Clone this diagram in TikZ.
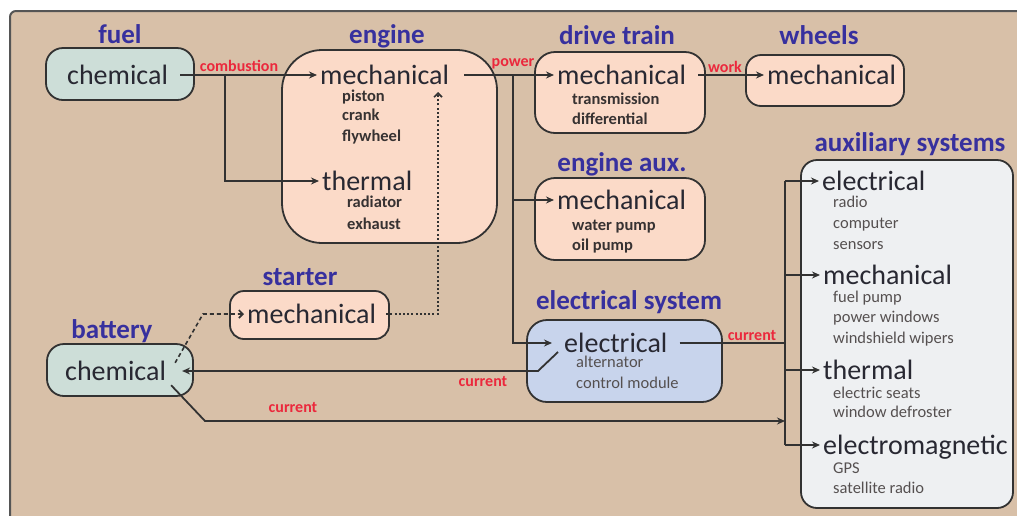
\documentclass[tikz,border=0pt]{standalone}
\usepackage{fontspec}
\setmainfont{Carlito}
\usetikzlibrary{arrows.meta,calc}
\definecolor{tanc}{RGB}{216,192,168}
\definecolor{framec}{RGB}{85,85,85}
\definecolor{linec}{RGB}{50,50,50}
\definecolor{fuelc}{RGB}{205,222,216}
\definecolor{pinkc}{RGB}{251,218,200}
\definecolor{bluec}{RGB}{200,212,236}
\definecolor{auxc}{RGB}{238,240,242}
\definecolor{titlec}{RGB}{55,48,158}
\definecolor{redc}{RGB}{235,40,60}
\definecolor{maintextc}{RGB}{40,40,50}
\definecolor{subbc}{RGB}{55,50,50}
\definecolor{subrc}{RGB}{85,80,80}
\begin{document}
\begin{tikzpicture}[x=1pt,y=-1pt,
  box/.style={draw=linec, line width=1.8pt, inner sep=0pt},
  ttl/.style={font=\fontsize{27}{32}\selectfont\bfseries, text=titlec, inner sep=0pt, text height=19pt, text depth=6pt},
  main/.style={font=\fontsize{28}{34}\selectfont, text=maintextc, inner xsep=3pt, inner ysep=0pt, text height=18pt, text depth=0pt, anchor=west},
  subb/.style={font=\fontsize{16.5}{20}\selectfont\bfseries, text=subbc, inner sep=0pt, text height=10pt, text depth=2pt, anchor=west},
  subr/.style={font=\fontsize{16.5}{20}\selectfont, text=subrc, inner sep=0pt, text height=10pt, text depth=2pt, anchor=west},
  lab/.style={font=\fontsize{16}{19}\selectfont\bfseries, text=redc, inner sep=0pt},
  line/.style={draw=linec, line width=1.8pt},
  conn/.style={line, -{Stealth[length=8pt,width=7pt]}},
  dotconn/.style={draw=linec, line width=1.6pt, dash pattern=on 2pt off 2.2pt, -{Straight Barb[length=4pt,width=8pt]}},
  dashconn/.style={draw=linec, line width=1.6pt, dash pattern=on 4pt off 3pt, -{Straight Barb[length=4pt,width=8pt]}}
]
\useasboundingbox (0,0) rectangle (1017,515);
\begin{scope}
\clip (0,0) rectangle (1017,515);
\draw[draw=framec, line width=2pt, fill=tanc, rounded corners=6pt] (10,11) rectangle (1040,540);
\end{scope}

% boxes
\node[box, fill=fuelc, rounded corners=17pt, minimum width=148pt, minimum height=52pt] (fuelbox) at (120,74) {};
\node[box, fill=pinkc, rounded corners=40pt, minimum width=215pt, minimum height=193pt] (engbox) at (389.5,146.5) {};
\node[box, fill=pinkc, rounded corners=20pt, minimum width=170pt, minimum height=81pt] (dtbox) at (620,92.5) {};
\node[box, fill=pinkc, rounded corners=20pt, minimum width=170pt, minimum height=82pt] (eabox) at (620,219) {};
\node[box, fill=pinkc, rounded corners=15pt, minimum width=158pt, minimum height=51pt] (whbox) at (825,80.5) {};
\node[box, fill=auxc, rounded corners=16pt, minimum width=212pt, minimum height=348pt] (auxbox) at (907,334) {};
\node[box, fill=pinkc, rounded corners=14pt, minimum width=159pt, minimum height=48pt] (startbox) at (309.5,315) {};
\node[box, fill=fuelc, rounded corners=17pt, minimum width=146pt, minimum height=52pt] (batbox) at (120,370) {};
\node[box, fill=bluec, rounded corners=20pt, minimum width=195pt, minimum height=82pt] (elecbox) at (624.5,361) {};

% titles
\node[ttl] (tfuel) at (120,37) {fuel};
\node[ttl] (teng) at (387,37) {engine};
\node[ttl] (tdt) at (617,38) {drive train};
\node[ttl] (twh) at (819,38) {wheels};
\node[ttl] (tea) at (622,165) {engine aux.};
\node[ttl] (taux) at (910,145) {auxiliary systems};
\node[ttl] (tstart) at (300,279) {starter};
\node[ttl] (tbat) at (112,332) {battery};
\node[ttl] (telec) at (629,303) {electrical system};

% main texts
\node[main] (fuelchem) at (64,75) {chemical};
\node[main] (engmech) at (317,75) {mechanical};
\node[main] (engtherm) at (319,181) {thermal};
\node[main] (dtmech) at (554,75) {mechanical};
\node[main] (whmech) at (764,75) {mechanical};
\node[main] (eamech) at (554,200) {mechanical};
\node[main] (startmech) at (244,314) {mechanical};
\node[main] (batchem) at (62,371) {chemical};
\node[main] (elec) at (561,343) {electrical};
\node[main] (auxel) at (819,181) {electrical};
\node[main] (auxmech) at (820,275) {mechanical};
\node[main] (auxtherm) at (820,370) {thermal};
\node[main] (auxem) at (820,445) {electromagnetic};

% sub items
\node[subb] (s1) at (342,97) {piston};
\node[subb] (s2) at (342,116) {crank};
\node[subb] (s3) at (342,137) {flywheel};
\node[subb] (s4) at (347,203) {radiator};
\node[subb] (s5) at (347,225) {exhaust};
\node[subb] (s6) at (572,100) {transmission};
\node[subb] (s7) at (572,120) {differential};
\node[subb] (s8) at (572,226) {water pump};
\node[subb] (s9) at (572,246) {oil pump};
\node[subr] (s10) at (576,363) {alternator};
\node[subr] (s11) at (576,384) {control module};
\node[subr] (s12) at (833,203) {radio};
\node[subr] (s13) at (833,224) {computer};
\node[subr] (s14) at (833,245) {sensors};
\node[subr] (s15) at (833,298) {fuel pump};
\node[subr] (s16) at (833,318) {power windows};
\node[subr] (s17) at (833,339) {windshield wipers};
\node[subr] (s18) at (833,394) {electric seats};
\node[subr] (s19) at (833,413) {window defroster};
\node[subr] (s20) at (833,469) {GPS};
\node[subr] (s21) at (833,489) {satellite radio};

% labels
\node[lab] (lcomb) at (239,66) {combustion};
\node[lab] (lpow) at (513,64) {power};
\node[lab] (lwork) at (725,67) {work};
\node[lab] (lcur1) at (483,382) {current};
\node[lab] (lcur2) at (293,408) {current};
\node[lab] (lcur3) at (752,336) {current};

% helper coordinates
\coordinate (fb) at (225,75);
\coordinate (pb) at (513,75);
\coordinate (busT) at (785,181);
\coordinate (busB) at (785,445);
\coordinate (bb) at (205,421);
\coordinate (ds) at (203,314);
\coordinate (dotend) at (438,92);
\coordinate (eb1) at (558,352);
\coordinate (eb2) at (538,371);

% connectors
\draw[conn] ([xshift=9pt]fuelchem.east) -- (engmech.west);
\draw[conn] (fb) |- (engtherm.west);
\draw[conn] ([xshift=12pt]engmech.east) -- (dtmech.west);
\draw[conn] (pb) |- (eamech.west);
\draw[conn] (pb) |- ([xshift=-9pt]elec.west);
\draw[conn] ([xshift=9pt]dtmech.east) -- (whmech.west);
\draw[dotconn] ([xshift=7pt]startmech.east) -| (dotend);
\draw[dashconn] ([xshift=6pt,yshift=-1pt]batchem.north east) -- (ds) -- (startmech.west);
\draw[conn] (eb1) -- (eb2) -- ([xshift=13pt]batchem.east);
\draw[conn] ([shift={(2,5)}]batchem.south east) -- (bb) -- (bb -| busT);
\draw[line] ([xshift=9pt]elec.east) -- (elec.east -| busT);
\draw[line] (busT) -- (busB);
\draw[conn] (busT) -- (auxel.west);
\draw[conn] (busT |- auxmech.west) -- (auxmech.west);
\draw[conn] (busT |- auxtherm.west) -- (auxtherm.west);
\draw[conn] (busB) -- (auxem.west);
\end{tikzpicture}
\end{document}
